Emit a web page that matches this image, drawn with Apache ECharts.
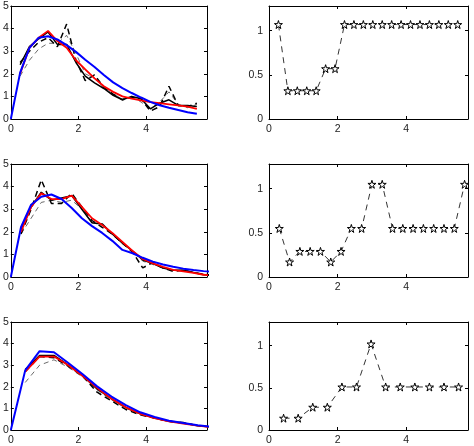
<!DOCTYPE html>
<html lang="en">
<head>
<meta charset="UTF-8">
<title>chart</title>
<script src="https://cdn.jsdelivr.net/npm/echarts@6/dist/echarts.min.js"></script>
<style>html,body{margin:0;padding:0;background:#fff}</style>
</head>
<body>
<div id="main" style="width:474px;height:446px;"></div>
<script type="text/javascript">
// ---- row 1 ----
var x1 = [0.275,0.55,0.825,1.1,1.375,1.65,1.925,2.2,2.475,2.75,3.025,3.3,3.575,3.85,4.125,4.4,4.675,4.95,5.225,5.5];
var blueX1 = [0,0.275,0.55,0.825,1.1,1.375,1.65,1.925,2.2,2.475,2.75,3.025,3.3,3.575,3.85,4.125,4.4,4.675,4.95,5.225,5.5];
var blue1 = [0,2.05,3.15,3.6,3.66,3.52,3.27,2.97,2.62,2.3,1.95,1.62,1.37,1.15,0.95,0.76,0.61,0.5,0.4,0.3,0.23];
var red1 = [2.0,3.15,3.6,3.9,3.45,3.15,2.6,2.2,1.8,1.45,1.2,1.0,0.9,0.82,0.75,0.7,0.65,0.6,0.55,0.45];
var black1 = [2.4,3.2,3.55,3.85,3.3,3.3,2.5,1.9,1.6,1.35,1.05,0.85,1.0,0.9,0.45,0.7,0.85,0.6,0.6,0.55];
var dash1 = [2.5,3.0,3.4,3.6,3.2,4.2,2.6,1.7,1.95,1.4,1.1,0.85,0.95,0.9,0.35,0.55,1.45,0.6,0.55,0.7];
var thin1 = [1.9,2.6,3.1,3.35,3.35,3.7,2.9,2.0,1.8,1.4,1.1,0.9,1.0,0.75,0.45,0.75,1.2,0.65,0.5,0.65];
var starX1 = [0.275,0.55,0.825,1.1,1.375,1.65,1.925,2.2,2.475,2.75,3.025,3.3,3.575,3.85,4.125,4.4,4.675,4.95,5.225,5.5];
var star1 = [1.07,0.32,0.32,0.32,0.32,0.57,0.57,1.07,1.07,1.07,1.07,1.07,1.07,1.07,1.07,1.07,1.07,1.07,1.07,1.07];

// ---- row 2 ----
var x2 = [0.3,0.6,0.9,1.2,1.5,1.8,2.1,2.4,2.7,3.0,3.3,3.6,3.9,4.2,4.5,4.8,5.1,5.4,5.7,6.0];
var blueX2 = [0,0.3,0.6,0.9,1.2,1.5,1.8,2.1,2.4,2.7,3.0,3.3,3.6,3.9,4.2,4.5,4.8,5.1,5.4,5.7,6.0];
var blue2 = [0,2.2,3.2,3.55,3.65,3.45,3.05,2.6,2.25,1.95,1.6,1.2,1.05,0.85,0.68,0.55,0.45,0.37,0.31,0.26,0.23];
var red2 = [2.0,3.1,3.7,3.45,3.45,3.6,3.1,2.6,2.3,1.95,1.55,1.15,0.8,0.6,0.45,0.32,0.25,0.18,0.1,0.06];
var black2 = [2.1,3.1,3.75,3.4,3.5,3.6,3.0,2.4,2.35,1.9,1.5,1.15,0.75,0.6,0.4,0.3,0.3,0.2,0.1,0.06];
var dash2 = [1.9,3.0,4.3,3.25,3.25,3.7,3.1,2.5,2.2,1.9,1.5,1.1,0.4,0.65,0.4,0.25,0.3,0.2,0.12,0.08];
var thin2 = [1.9,2.6,3.3,3.4,3.3,3.4,3.0,2.4,2.3,1.9,1.5,1.15,0.7,0.55,0.4,0.3,0.3,0.2,0.12,0.08];
var starX2 = [0.3,0.6,0.9,1.2,1.5,1.8,2.1,2.4,2.7,3.0,3.3,3.6,3.9,4.2,4.5,4.8,5.1,5.4,5.7];
var star2 = [0.55,0.17,0.29,0.29,0.29,0.17,0.29,0.55,0.55,1.05,1.05,0.55,0.55,0.55,0.55,0.55,0.55,0.55,1.05];

// ---- row 3 ----
var x3 = [0.425,0.85,1.275,1.7,2.125,2.55,2.975,3.4,3.825,4.25,4.675,5.1,5.525,5.95];
var blueX3 = [0,0.425,0.85,1.275,1.7,2.125,2.55,2.975,3.4,3.825,4.25,4.675,5.1,5.525,5.95];
var blue3 = [0,2.76,3.65,3.6,3.1,2.58,2.02,1.55,1.15,0.82,0.6,0.43,0.32,0.22,0.14];
var red3 = [2.7,3.4,3.4,3.0,2.5,1.95,1.45,1.05,0.75,0.55,0.4,0.3,0.2,0.13];
var black3 = [2.8,3.45,3.45,3.0,2.5,1.9,1.45,1.05,0.75,0.55,0.4,0.32,0.2,0.13];
var dash3 = [2.7,3.4,3.35,2.95,2.5,1.75,1.35,0.95,0.7,0.55,0.4,0.35,0.2,0.14];
var thin3 = [2.2,3.0,3.25,2.9,2.45,1.85,1.4,1.0,0.75,0.55,0.4,0.32,0.2,0.14];
var starX3 = [0.425,0.85,1.275,1.7,2.125,2.55,2.975,3.4,3.825,4.25,4.675,5.1,5.525];
var star3 = [0.14,0.14,0.27,0.27,0.51,0.51,1.02,0.51,0.51,0.51,0.51,0.51,0.51];

function pairs(xs, ys){
	return ys.map(function(v,i){return [xs[i], v];});
}

var starPath = 'path://M50,0 L61,35 L98,35 L68,57 L79,91 L50,70 L21,91 L32,57 L2,35 L39,35 Z';
var tops = [6, 164, 322];
var hgt = 113;
var grids = [], xAxes = [], yAxes = [], series = [];
var font = {color:'#222', fontSize:10.5, fontFamily:'Liberation Sans, Arial, sans-serif'};

function addPanel(left, top, ymax, yint, yMargin){
	var g = grids.length;
	grids.push({left:left, top:top, width:199, height:hgt, show:false});
	var xi = xAxes.length, yi = yAxes.length;
	xAxes.push({
		gridIndex:g, type:'value', min:0, max:5.8, interval:2, position:'bottom',
		axisLine:{show:true, onZero:false, lineStyle:{color:'#000', width:1}},
		axisTick:{inside:true, length:3, lineStyle:{color:'#000'}},
		axisLabel:Object.assign({margin:5, showMaxLabel:false}, font),
		splitLine:{show:false}
	});
	xAxes.push({
		gridIndex:g, type:'value', min:0, max:5.8, interval:2, position:'top',
		axisLine:{show:true, onZero:false, lineStyle:{color:'#000', width:1}},
		axisTick:{inside:true, length:3, lineStyle:{color:'#000'}},
		axisLabel:{show:false}, splitLine:{show:false}
	});
	yAxes.push({
		gridIndex:g, type:'value', min:0, max:ymax, interval:yint, position:'left',
		axisLine:{show:true, onZero:false, lineStyle:{color:'#000', width:1}},
		axisTick:{inside:true, length:3, lineStyle:{color:'#000'}},
		axisLabel:Object.assign({margin:yMargin, showMaxLabel:ymax % yint === 0}, font),
		splitLine:{show:false}
	});
	yAxes.push({
		gridIndex:g, type:'value', min:0, max:ymax, interval:yint, position:'right',
		axisLine:{show:true, onZero:false, lineStyle:{color:'#000', width:1}},
		axisTick:{inside:true, length:3, lineStyle:{color:'#000'}},
		axisLabel:{show:false}, splitLine:{show:false}
	});
	return {x:xi, y:yi};
}

function lineSeries(ax, data, color, width, type){
	return {
		type:'line', xAxisIndex:ax.x, yAxisIndex:ax.y, data:data,
		symbol:'none', animation:false, clip:true,
		lineStyle:{color:color, width:width, type:type}
	};
}

var leftSets = [
	[x1, blueX1, blue1, red1, black1, dash1, thin1],
	[x2, blueX2, blue2, red2, black2, dash2, thin2],
	[x3, blueX3, blue3, red3, black3, dash3, thin3]
];
var rightSets = [[starX1, star1],[starX2, star2],[starX3, star3]];

for (var r = 0; r < 3; r++) {
	var s = leftSets[r];
	var axL = addPanel(8, tops[r], 5, 1, 2);
	series.push(lineSeries(axL, pairs(s[0], s[6]), '#444', 0.8, [5,4]));
	series.push(lineSeries(axL, pairs(s[0], s[5]), '#000', 1.5, [6,4]));
	series.push(lineSeries(axL, pairs(s[0], s[4]), '#000', 1.5, 'solid'));
	series.push(lineSeries(axL, pairs(s[0], s[3]), '#ff0000', 1.8, 'solid'));
	series.push(lineSeries(axL, pairs(s[1], s[2]), '#0000ff', 2, 'solid'));

	var axR = addPanel(269, tops[r], 1.28, 0.5, 6);
	series.push({
		type:'line', xAxisIndex:axR.x, yAxisIndex:axR.y,
		data:pairs(rightSets[r][0], rightSets[r][1]),
		symbol:starPath, symbolSize:8, animation:false,
		lineStyle:{color:'#000', width:0.8, type:[6,5]},
		itemStyle:{color:'#fff', borderColor:'#000', borderWidth:1}
	});
}

var chart = echarts.init(document.getElementById('main'));
chart.setOption({
	animation:false,
	backgroundColor:'#fff',
	grid:grids,
	xAxis:xAxes,
	yAxis:yAxes,
	series:series
});
</script>
</body>
</html>
